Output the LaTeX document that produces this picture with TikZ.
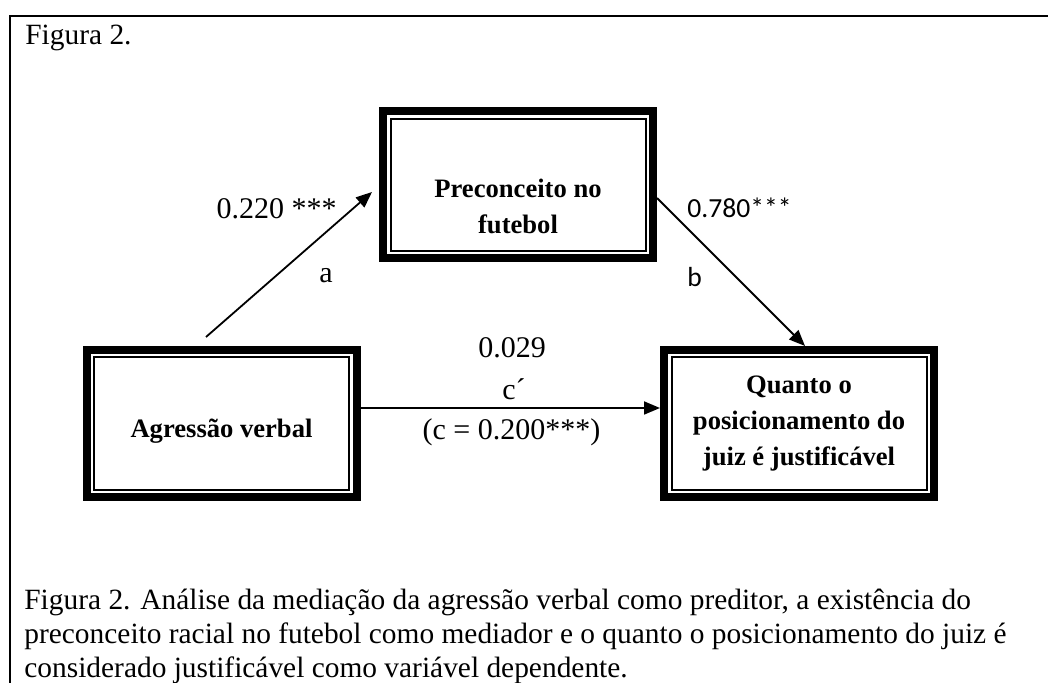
\documentclass[tikz,border=0pt]{standalone}
\usepackage{fontspec}
\setmainfont{Liberation Serif}
\newfontfamily\calib{Carlito}
\usetikzlibrary{arrows.meta}

\begin{document}
\begin{tikzpicture}[x=0.5pt, y=-0.5pt,
  var/.style = {draw, line width=4pt, minimum width=135pt, minimum height=73.5pt,
    align=center, font=\fontsize{13.3}{18}\selectfont\bfseries,
    path picture={\draw[line width=1pt] ([shift={(3.75pt,-3.75pt)}]path picture bounding box.north west)
      rectangle ([shift={(-3.75pt,3.75pt)}]path picture bounding box.south east);}},
  boxtxt/.style = {align=center, font=\fontsize{13.3}{18}\selectfont\bfseries},
  lab/.style = {anchor=base, inner sep=0pt, font=\fontsize{15}{18}\selectfont},
  sans/.style = {anchor=base west, inner sep=0pt, font=\fontsize{13.8}{16}\selectfont\calib},
  captxt/.style = {anchor=base west, inner sep=0pt, font=\fontsize{14.7}{17}\selectfont},
  arr/.style = {-{Triangle[length=8pt, width=6.5pt]}, line width=0.9pt}]
\useasboundingbox (0,0) rectangle (1048,683);
\clip (0,0) rectangle (1048,683);
\draw[line width=1.3pt] (10,700) -- (10,16) -- (1060,16);
\node[captxt] (fig) at (25,45) {Figura 2.};

\node[var, label={[boxtxt, yshift=-10.5pt]center:Preconceito no\\futebol}] (pre) at (518,185) {};
\node[var, label={[boxtxt, yshift=-4pt]center:Agressão verbal}] (agr) at (221.5,423.5) {};
\node[var] (qua) at (799,423.5) {Quanto o\\posicionamento do\\juiz é justificável};

\draw[arr] ([shift={(-15.5,-9)}]agr.north) -- ([shift={(-7,7)}]pre.west);
\draw[arr] ([yshift=-6.5pt]pre.east) -- ([xshift=3pt]qua.north);
\draw[arr] ([yshift=7.75pt]agr.east) -- ([yshift=7.75pt]qua.west);

\node[lab] (la) at (276.5,219) {0.220 ***};
\node[lab] (a) at (326,283) {a};
\node[sans] (lb) at (687,218) {0.780***};
\node[sans] (b) at (687,287) {b};
\node[lab] (lc) at (512,358) {0.029};
\node[lab] (c) at (514,400) {c´};
\node[lab] (lcc) at (511.5,440) {(c = 0.200***)};

\node[captxt] (cap1) at (24,609) {Figura 2. Análise da mediação da agressão verbal como preditor, a existência do};
\node[captxt] (cap2) at (24,643) {preconceito racial no futebol como mediador e o quanto o posicionamento do juiz é};
\node[captxt] (cap3) at (24,677) {considerado justificável como variável dependente.};
\end{tikzpicture}
\end{document}
